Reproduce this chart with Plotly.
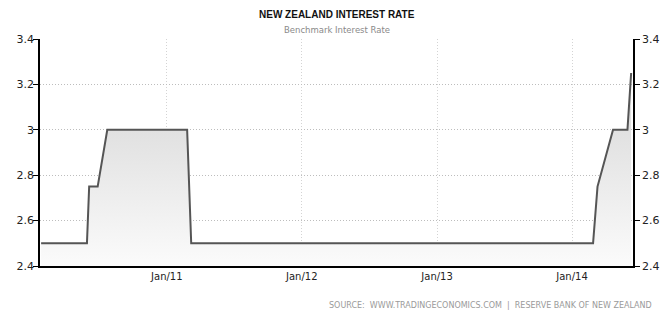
import plotly.graph_objects as go

# Benchmark interest rate (%) at change points
dates = ["2010-01-26", "2010-05-30", "2010-06-05", "2010-06-28", "2010-07-24",
         "2011-02-25", "2011-03-08", "2014-02-27", "2014-03-11", "2014-04-22",
         "2014-05-31", "2014-06-10"]
rates = [2.5, 2.5, 2.75, 2.75, 3.0, 3.0, 2.5, 2.5, 2.75, 3.0, 3.0, 3.25]

x_ticks = ["2011-01-01", "2012-01-01", "2013-01-01", "2014-01-01"]
x_tick_labels = ["Jan/11", "Jan/12", "Jan/13", "Jan/14"]
y_ticks = [2.4, 2.6, 2.8, 3.0, 3.2, 3.4]
y_tick_labels = ["2.4", "2.6", "2.8", "3", "3.2", "3.4"]

title = "NEW ZEALAND INTEREST RATE"
subtitle = "Benchmark Interest Rate"
source = "SOURCE:  WWW.TRADINGECONOMICS.COM  |  RESERVE BANK OF NEW ZEALAND"

FONT = "DejaVu Sans"

fig = go.Figure()
fig.add_trace(go.Scatter(
    x=dates, y=rates, mode="lines",
    line=dict(color="#555555", width=2),
    fill="tozeroy",
    fillgradient=dict(type="vertical", start=2.4, stop=3.25,
                      colorscale=[[0, "#fbfbfb"], [1, "#d6d6d6"]]),
    hoverinfo="x+y", showlegend=False,
))
# invisible trace on the right axis so it renders
fig.add_trace(go.Scatter(x=[dates[0]], y=[2.5], yaxis="y2", mode="markers",
                         marker=dict(opacity=0), showlegend=False, hoverinfo="skip"))

axis_font = dict(family=FONT, size=11, color="#222222")
PW = 666 - 40 - 33
fig.update_layout(
    width=666, height=323,
    margin=dict(l=40, r=33, t=39, b=57),
    paper_bgcolor="white", plot_bgcolor="white",
    xaxis=dict(
        type="date", range=["2010-01-23", "2014-06-15"],
        tickvals=x_ticks, ticktext=x_tick_labels,
        showgrid=True, gridcolor="#d4d4d4", griddash="1px,2px", gridwidth=1,
        showline=True, linecolor="black", linewidth=1.5,
        ticks="", tickfont=dict(family=FONT, size=10, color="#222222"),
        zeroline=False, fixedrange=True, automargin=False,
    ),
    yaxis=dict(
        range=[2.4, 3.4], tickvals=y_ticks, ticktext=y_tick_labels,
        showgrid=True, gridcolor="#bdbdbd", griddash="1px,2px", gridwidth=1,
        showline=True, linecolor="black", linewidth=1.5,
        ticks="outside", ticklen=5, tickcolor="black", tickwidth=1,
        ticklabelstandoff=-3, automargin=False,
        tickfont=axis_font, zeroline=False, fixedrange=True,
    ),
    yaxis2=dict(
        range=[2.4, 3.4], tickvals=y_ticks, ticktext=y_tick_labels,
        overlaying="y", side="right", showgrid=False,
        showline=True, linecolor="black", linewidth=1.5,
        ticks="outside", ticklen=5, tickcolor="black", tickwidth=1,
        ticklabelstandoff=0, automargin=False,
        tickfont=axis_font, zeroline=False, fixedrange=True,
    ),
    annotations=[
        dict(text=title, x=0.5, y=1, xref="paper", yref="paper", showarrow=False,
             yanchor="middle", yshift=39 - 14,
             font=dict(family="Liberation Sans", size=10, color="#111111", weight="bold")),
        dict(text=subtitle, x=0.5, y=1, xref="paper", yref="paper", showarrow=False,
             yanchor="middle", yshift=39 - 30,
             font=dict(family=FONT, size=8.5, color="#8a8a8a")),
        dict(text=source, x=(654 - 40) / PW, y=0, xref="paper", yref="paper",
             showarrow=False, xanchor="right", yanchor="middle", yshift=-(305 - 266),
             font=dict(family=FONT, size=8, color="#9a9a9a")),
    ],
)

fig.write_html("out.html")
